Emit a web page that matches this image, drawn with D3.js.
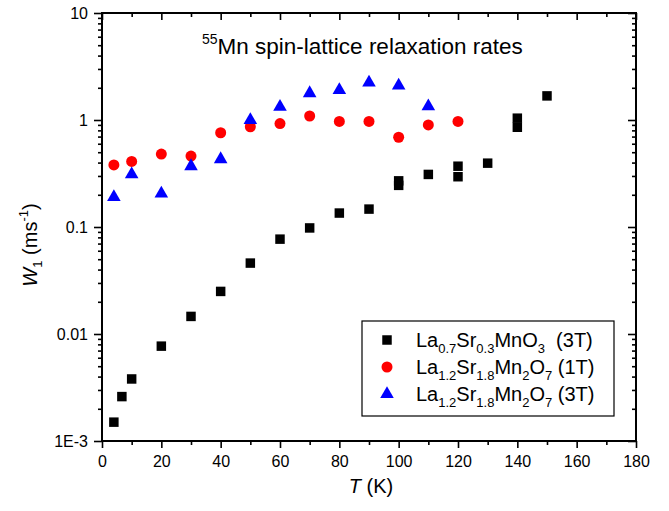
<!DOCTYPE html>
<html>
<head>
<meta charset="utf-8">
<script src="https://cdn.jsdelivr.net/npm/d3@7"></script>
<style>
  body { margin: 0; background: #fff; }
  svg { font-family: 'Liberation Sans', Arial, sans-serif; }
</style>
</head>
<body>
<div id="box"></div>
<script>
// La0.7Sr0.3MnO3 (3T)
const lsmoT = [4, 6.7, 10, 20, 30, 40, 50, 60, 70, 80, 90, 100, 100, 110, 120, 120, 130, 140, 140, 150]
const lsmoW = [0.0015, 0.0026, 0.0038, 0.0077, 0.0146, 0.025, 0.046, 0.077, 0.098, 0.135, 0.147, 0.27, 0.245, 0.31, 0.37, 0.295, 0.395, 1.04, 0.855, 1.68]

// La1.2Sr1.8Mn2O7 (1T)
const bilayer1T = [4, 10, 20, 30, 40, 50, 60, 70, 80, 90, 100, 110, 120]
const bilayer1W = [0.38, 0.41, 0.48, 0.46, 0.76, 0.865, 0.925, 1.09, 0.97, 0.97, 0.69, 0.9, 0.97]

// La1.2Sr1.8Mn2O7 (3T)
const bilayer3T = [4, 10, 20, 30, 40, 50, 60, 70, 80, 90, 100, 110]
const bilayer3W = [0.19, 0.31, 0.205, 0.37, 0.43, 1.0, 1.33, 1.78, 1.9, 2.24, 2.1, 1.34]

const xTicks = [0, 20, 40, 60, 80, 100, 120, 140, 160, 180]
const yTicks = [0.001, 0.01, 0.1, 1, 10]
const yTickLabels = ['1E-3', '0.01', '0.1', '1', '10']

const width = 669, height = 511
const margin = { top: 13, left: 102, right: 33, bottom: 70 }

const svg = d3.select('#box').append('svg')
  .attr('width', width).attr('height', height)

const x = d3.scaleLinear().domain([0, 180]).range([margin.left, width - margin.right])
const y = d3.scaleLog().domain([0.001, 10]).range([height - margin.bottom, margin.top])

// minor ticks
const xMinor = d3.range(10, 180, 20)
const yMinor = []
for (let e = -3; e < 1; e++) {
  for (let k = 2; k <= 9; k++) yMinor.push(k * Math.pow(10, e))
}

function styleAxis(g) {
  g.select('.domain').remove()
  g.selectAll('line').attr('stroke', '#000').attr('stroke-width', 1.6)
  g.selectAll('text').attr('fill', '#000').attr('font-size', 16)
}

const x0 = x.range()[0], x1 = x.range()[1]
const y0 = y.range()[0], y1 = y.range()[1]

// bottom axis (outward)
svg.append('g').attr('transform', `translate(0,${y0})`)
  .call(d3.axisBottom(x).tickValues(xTicks).tickSize(7).tickPadding(8).tickFormat(d3.format('d')))
  .call(styleAxis)
svg.append('g').attr('transform', `translate(0,${y0})`)
  .call(d3.axisBottom(x).tickValues(xMinor).tickSize(4).tickFormat(''))
  .call(styleAxis)

// top axis (inward)
svg.append('g').attr('transform', `translate(0,${y1})`)
  .call(d3.axisBottom(x).tickValues(xTicks).tickSize(7).tickFormat(''))
  .call(styleAxis)
svg.append('g').attr('transform', `translate(0,${y1})`)
  .call(d3.axisBottom(x).tickValues(xMinor).tickSize(4).tickFormat(''))
  .call(styleAxis)

// left axis (outward)
svg.append('g').attr('transform', `translate(${x0},0)`)
  .call(d3.axisLeft(y).tickValues(yTicks).tickSize(8).tickPadding(6)
    .tickFormat((d, i) => yTickLabels[i]))
  .call(styleAxis)
svg.append('g').attr('transform', `translate(${x0},0)`)
  .call(d3.axisLeft(y).tickValues(yMinor).tickSize(4).tickFormat(''))
  .call(styleAxis)

// right axis (inward)
svg.append('g').attr('transform', `translate(${x1},0)`)
  .call(d3.axisLeft(y).tickValues(yTicks).tickSize(8).tickFormat(''))
  .call(styleAxis)
svg.append('g').attr('transform', `translate(${x1},0)`)
  .call(d3.axisLeft(y).tickValues(yMinor).tickSize(4).tickFormat(''))
  .call(styleAxis)

// frame
svg.append('rect')
  .attr('x', x0).attr('y', y1)
  .attr('width', x1 - x0).attr('height', y0 - y1)
  .attr('fill', 'none').attr('stroke', '#000').attr('stroke-width', 2)

// markers
const sq = d3.symbol().type(d3.symbolSquare).size(90)
const circ = d3.symbol().type(d3.symbolCircle).size(95)
const tri = d3.symbol().type(d3.symbolTriangle).size(80)

const plot = svg.append('g')

plot.selectAll('.sq').data(d3.zip(lsmoT, lsmoW)).join('path')
  .attr('class', 'sq')
  .attr('d', sq)
  .attr('transform', d => `translate(${x(d[0])},${y(d[1])})`)
  .attr('fill', '#000')

plot.selectAll('.circ').data(d3.zip(bilayer1T, bilayer1W)).join('path')
  .attr('class', 'circ')
  .attr('d', circ)
  .attr('transform', d => `translate(${x(d[0])},${y(d[1])})`)
  .attr('fill', '#ff0000')

plot.selectAll('.tri').data(d3.zip(bilayer3T, bilayer3W)).join('path')
  .attr('class', 'tri')
  .attr('d', tri)
  .attr('transform', d => `translate(${x(d[0])},${y(d[1])})`)
  .attr('fill', '#0000ff')

// title
const title = svg.append('text')
  .attr('x', 202).attr('y', 54)
  .attr('font-size', 22.5)
  .attr('fill', '#000')
title.append('tspan').attr('font-size', 14).attr('dy', -10).text('55')
title.append('tspan').attr('dy', 10).text('Mn spin-lattice relaxation rates')

// axis titles
const xt = svg.append('text')
  .attr('x', (x0 + x1) / 2 + 2).attr('y', 493)
  .attr('text-anchor', 'middle')
  .attr('font-size', 20)
xt.append('tspan').attr('font-style', 'italic').text('T')
xt.append('tspan').text(' (K)')

const yt = svg.append('text')
  .attr('transform', 'translate(37,245) rotate(-90)')
  .attr('text-anchor', 'middle')
  .attr('font-size', 20)
yt.append('tspan').attr('font-style', 'italic').text('W')
yt.append('tspan').attr('font-size', 13).attr('dy', 5).text('1')
yt.append('tspan').attr('dy', -5).text(' (ms')
yt.append('tspan').attr('font-size', 13).attr('dy', -9).text('-1')
yt.append('tspan').attr('dy', 9).text(')')

// legend
const legend = svg.append('g')
legend.append('rect')
  .attr('x', 362).attr('y', 321)
  .attr('width', 252).attr('height', 95)
  .attr('fill', '#fff').attr('stroke', '#000').attr('stroke-width', 1.2)

const legendRows = [
  { sym: sq, color: '#000', parts: [['La'], ['0.7', 1], ['Sr'], ['0.3', 1], ['MnO'], ['3', 1], ['  (3T)']] },
  { sym: circ, color: '#ff0000', parts: [['La'], ['1.2', 1], ['Sr'], ['1.8', 1], ['Mn'], ['2', 1], ['O'], ['7', 1], [' (1T)']] },
  { sym: tri, color: '#0000ff', parts: [['La'], ['1.2', 1], ['Sr'], ['1.8', 1], ['Mn'], ['2', 1], ['O'], ['7', 1], [' (3T)']] }
]

legendRows.forEach((r, i) => {
  const cy = 340 + i * 27
  legend.append('path')
    .attr('d', r.sym)
    .attr('transform', `translate(387,${cy})`)
    .attr('fill', r.color)
  const t = legend.append('text')
    .attr('x', 416).attr('y', cy + 7)
    .attr('font-size', 20)
    .attr('xml:space', 'preserve')
  let sub = false
  r.parts.forEach(p => {
    const isSub = !!p[1]
    const dy = isSub && !sub ? 6 : (!isSub && sub ? -6 : 0)
    t.append('tspan')
      .attr('dy', dy)
      .attr('font-size', isSub ? 13 : 20)
      .text(p[0])
    sub = isSub
  })
})
</script>
</body>
</html>
